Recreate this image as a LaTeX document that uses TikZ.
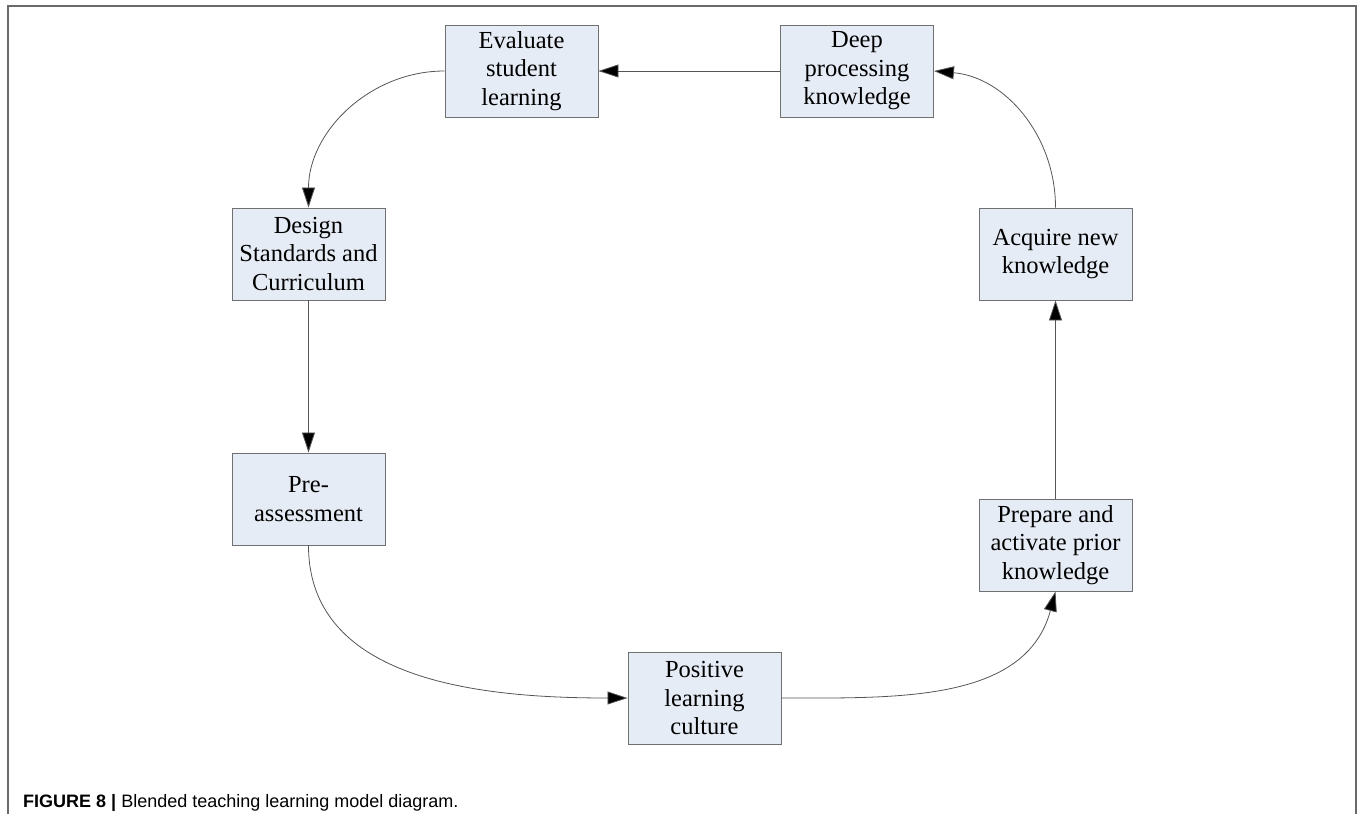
\documentclass[tikz,border=0pt]{standalone}
\usepackage{fontspec}
\setmainfont{Liberation Serif}
\newfontfamily\capfont{Liberation Sans}
\usetikzlibrary{arrows.meta}
\definecolor{boxfill}{HTML}{E6ECF6}
\definecolor{boxline}{HTML}{707070}
\definecolor{frameline}{HTML}{6A6A6A}
\definecolor{arrline}{HTML}{555555}
\tikzset{
  stepbox/.style={draw=boxline, line width=0.9pt, fill=boxfill, minimum width=153pt, minimum height=92pt,
    inner sep=0pt, align=center, font=\fontsize{24.5}{28.5}\selectfont},
  conn/.style={draw=arrline, line width=0.8pt, -{Triangle[length=20pt,width=13pt,fill=black]}}
}
\begin{document}
\begin{tikzpicture}[x=1pt,y=-1pt]
\useasboundingbox (0,0) rectangle (1357,814);
\draw[frameline, line width=1.6pt] (8,814) -- (8,6) -- (1356,6) -- (1356,814);
\node[stepbox] (eval) at (521.5,71) {Evaluate\\student\\learning};
\node[stepbox] (deep) at (857,71) {Deep\\processing\\knowledge};
\node[stepbox] (design) at (308.5,254) {Design\\Standards and\\Curriculum};
\node[stepbox] (acq) at (1055.5,254) {Acquire new\\knowledge};
\node[stepbox] (pre) at (308.5,499) {Pre-\\assessment};
\node[stepbox] (prep) at (1055.5,545) {Prepare and\\activate prior\\knowledge};
\node[stepbox] (pos) at (704.5,698) {Positive\\learning\\culture};
\draw[conn] (deep.west) -- (eval.east);
\draw[conn] (eval.west) to[out=180,in=90] (design.north);
\draw[conn] (design.south) -- (pre.north);
\draw[conn] (pre.south) to[out=-90,in=180] (pos.west);
\draw[conn] (pos.east) to[out=0,in=-105] (prep.south);
\draw[conn] (prep.north) -- (acq.south);
\draw[conn] (acq.north) to[out=90,in=-5] (deep.east);
\node[anchor=base west, inner sep=0pt, font=\capfont\fontsize{18}{22}\selectfont] (cap) at (23,807)
  {\textbf{FIGURE 8 |} Blended teaching learning model diagram.};
\end{tikzpicture}
\end{document}
